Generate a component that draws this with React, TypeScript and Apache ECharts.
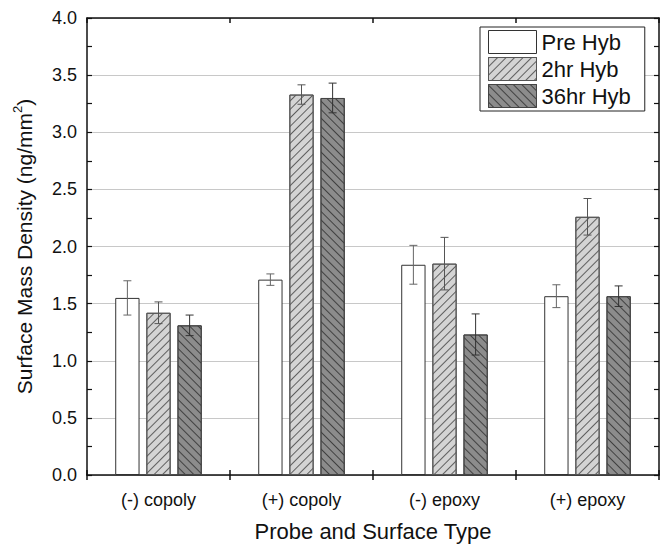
import React, { useEffect, useRef } from "react";
import * as echarts from "echarts";

const categories = ["(-) copoly", "(+) copoly", "(-) epoxy", "(+) epoxy"];
const seriesNames = ["Pre Hyb", "2hr Hyb", "36hr Hyb"];
const preHyb = [1.55, 1.71, 1.84, 1.565];
const hr2Hyb = [1.42, 3.33, 1.85, 2.26];
const hr36Hyb = [1.31, 3.3, 1.23, 1.565];
const preErr = [0.15, 0.05, 0.17, 0.1];
const hr2Err = [0.095, 0.085, 0.23, 0.16];
const hr36Err = [0.09, 0.13, 0.18, 0.09];
const yTicks = [0, 0.5, 1, 1.5, 2, 2.5, 3, 3.5, 4];

const FONT = "Liberation Sans";
const BAR_FRAC = 0.17;
const GAP_FRAC = 0.28;

export default function App() {
  const ref = useRef<HTMLDivElement>(null);
  useEffect(() => {
    if (!ref.current) return;
    const chart = echarts.init(ref.current, null, { renderer: "svg" });
    const values = [preHyb, hr2Hyb, hr36Hyb];
    const errs = [preErr, hr2Err, hr36Err];
    const fills = ["#ffffff", "#d4d4d4", "#8c8c8c"];
    const borders = ["#333333", "#555555", "#444444"];
    const errColors = ["#666666", "#555555", "#333333"];
    const decals: any[] = [
      undefined,
      {
        symbol: "rect",
        symbolSize: 1,
        color: "#5e5e5e",
        dashArrayX: [10, 0],
        dashArrayY: [0.9, 4.3],
        rotation: -Math.PI / 4,
      },
      {
        symbol: "rect",
        symbolSize: 1,
        color: "#404040",
        dashArrayX: [10, 0],
        dashArrayY: [0.9, 4.3],
        rotation: Math.PI / 4,
      },
    ];

    const barSeries = seriesNames.map((name, k) => ({
      name,
      type: "bar",
      xAxisIndex: 0,
      yAxisIndex: 0,
      data: values[k],
      barWidth: BAR_FRAC * 100 + "%",
      barGap: GAP_FRAC * 100 + "%",
      itemStyle: {
        color: fills[k],
        borderColor: borders[k],
        borderWidth: 1,
        decal: decals[k],
      },
      emphasis: { disabled: true },
      z: 2,
    }));

    const errSeries = seriesNames.map((name, k) => ({
      name: name + " err",
      type: "custom",
      xAxisIndex: 0,
      yAxisIndex: 0,
      data: values[k].map((v, i) => [i, v - errs[k][i], v + errs[k][i]]),
      encode: { x: 0, y: [1, 2] },
      z: 5,
      silent: true,
      renderItem: (params: any, api: any) => {
        const idx = api.value(0);
        const band = api.size([1, 0])[0];
        const off = (k - 1) * band * BAR_FRAC * (1 + GAP_FRAC);
        const lo = api.coord([idx, api.value(1)]);
        const hi = api.coord([idx, api.value(2)]);
        const x = lo[0] + off;
        const cap = 4;
        const style = { stroke: errColors[k], lineWidth: 1 };
        return {
          type: "group",
          children: [
            { type: "line", shape: { x1: x, y1: lo[1], x2: x, y2: hi[1] }, style },
            { type: "line", shape: { x1: x - cap, y1: lo[1], x2: x + cap, y2: lo[1] }, style },
            { type: "line", shape: { x1: x - cap, y1: hi[1], x2: x + cap, y2: hi[1] }, style },
          ],
        };
      },
    }));

    const yBase = {
      type: "value",
      min: yTicks[0],
      max: yTicks[yTicks.length - 1],
      interval: 0.5,
    };

    chart.setOption({
      animation: false,
      textStyle: { fontFamily: FONT },
      grid: { left: 87, right: 1, top: 18, bottom: 67, containLabel: false },
      legend: {
        data: seriesNames,
        orient: "vertical",
        left: 480,
        top: 27,
        icon: "rect",
        backgroundColor: "#ffffff",
        borderColor: "#222222",
        borderWidth: 1,
        padding: [3, 14, 3, 8],
        itemWidth: 48,
        itemHeight: 23,
        itemGap: 3,
        itemStyle: { borderWidth: 1 },
        textStyle: { fontSize: 22, color: "#111111", fontFamily: FONT },
        selectedMode: false,
      },
      xAxis: [
        {
          type: "category",
          data: categories,
          position: "bottom",
          boundaryGap: true,
          axisLine: { show: true, lineStyle: { color: "#111111", width: 1.5 } },
          axisTick: { show: true, inside: false, length: 5, lineStyle: { color: "#111111", width: 1.5 } },
          axisLabel: { fontSize: 18, color: "#111111", margin: 16, fontFamily: FONT },
          name: "Probe and Surface Type",
          nameLocation: "middle",
          nameGap: 45,
          nameTextStyle: { fontSize: 22, color: "#111111", fontFamily: FONT },
          splitLine: { show: false },
        },
        {
          type: "category",
          data: categories,
          position: "bottom",
          boundaryGap: true,
          axisLine: { show: false },
          axisTick: { show: true, inside: true, length: 5, lineStyle: { color: "#111111", width: 1.5 } },
          axisLabel: { show: false },
          splitLine: { show: false },
        },
        {
          type: "category",
          data: categories,
          position: "top",
          boundaryGap: true,
          axisLine: { show: true, lineStyle: { color: "#111111", width: 1.5 } },
          axisTick: { show: true, inside: true, length: 5, lineStyle: { color: "#111111", width: 1.5 } },
          axisLabel: { show: false },
          splitLine: { show: false },
        },
      ],
      yAxis: [
        {
          ...yBase,
          position: "left",
          axisLine: { show: true, lineStyle: { color: "#111111", width: 1.5 } },
          axisTick: { show: true, inside: true, length: 5, lineStyle: { color: "#111111", width: 1.2 } },
          minorTick: { show: true, splitNumber: 2, length: 5, lineStyle: { color: "#111111", width: 1.2 } },
          axisLabel: {
            fontSize: 18,
            color: "#111111",
            margin: 10,
            fontFamily: FONT,
            formatter: (v: number) => v.toFixed(1),
          },
          splitLine: { show: true, lineStyle: { color: "#c8c8c8", width: 1.2 } },
          name: "Surface Mass Density (ng/mm{sup|2})",
          nameLocation: "middle",
          nameGap: 50,
          nameTextStyle: {
            fontSize: 21,
            color: "#111111",
            fontFamily: FONT,
            rich: {
              sup: { fontSize: 13, color: "#111111", fontFamily: FONT, padding: [0, 0, 13, 0] },
            },
          },
        },
        {
          ...yBase,
          position: "right",
          axisLine: { show: true, lineStyle: { color: "#111111", width: 1.5 } },
          axisTick: { show: true, inside: true, length: 5, lineStyle: { color: "#111111", width: 1.2 } },
          minorTick: { show: true, splitNumber: 2, length: 5, lineStyle: { color: "#111111", width: 1.2 } },
          axisLabel: { show: false },
          splitLine: { show: false },
        },
      ],
      series: [...barSeries, ...errSeries],
    });
    return () => chart.dispose();
  }, []);
  return (
    <div
      ref={ref}
      style={{ position: "fixed", left: 0, top: 0, width: 660, height: 547, background: "#ffffff" }}
    />
  );
}
